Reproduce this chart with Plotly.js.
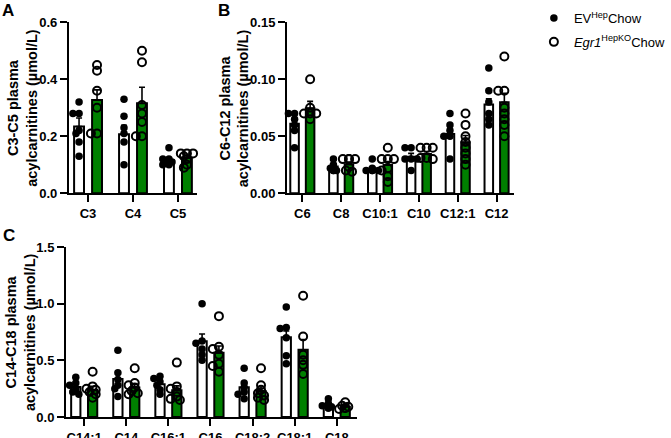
<!DOCTYPE html>
<html>
<head>
<meta charset="utf-8">
<script src="https://cdn.plot.ly/plotly-3.0.1.min.js"></script>
<style>
  html, body { margin: 0; padding: 0; background: #fff; }
  #chart { width: 671px; height: 438px; }
</style>
</head>
<body>
<div id="chart"></div>
<script>
// ---- Panel A: short-chain acylcarnitines (µmol/L) ----
const catsA = ['C3', 'C4', 'C5'];
const evMeanA = [0.234, 0.207, 0.116];
const koMeanA = [0.327, 0.316, 0.124];
const evSemA = [0.030, 0.032, 0.009];
const koSemA = [0.036, 0.056, 0.008];
const evPtsA = [
  [0.32, 0.28, 0.28, 0.22, 0.21, 0.18, 0.13],
  [0.33, 0.27, 0.23, 0.21, 0.18, 0.10],
  [0.16, 0.12, 0.12, 0.11, 0.11, 0.10, 0.10]
];
const koPtsA = [
  [0.45, 0.43, 0.36, 0.30, 0.21, 0.21],
  [0.50, 0.46, 0.31, 0.28, 0.25, 0.20, 0.20],
  [0.14, 0.14, 0.14, 0.13, 0.12, 0.10, 0.09]
];

// ---- Panel B: medium-chain acylcarnitines ----
const catsB = ['C6', 'C8', 'C10:1', 'C10', 'C12:1', 'C12'];
const evMeanB = [0.061, 0.0234, 0.0215, 0.032, 0.052, 0.078];
const koMeanB = [0.0746, 0.0254, 0.0249, 0.0345, 0.0447, 0.0798];
const evSemB = [0.0035, 0.0025, 0.001, 0.003, 0.005, 0.005];
const koSemB = [0.006, 0.002, 0.003, 0.002, 0.006, 0.008];
const evPtsB = [
  [0.07, 0.07, 0.065, 0.06, 0.055, 0.04],
  [0.03, 0.025, 0.022, 0.02, 0.02, 0.02],
  [0.03, 0.022, 0.02, 0.02, 0.02, 0.02],
  [0.04, 0.04, 0.03, 0.03, 0.03, 0.02],
  [0.07, 0.06, 0.055, 0.05, 0.05, 0.03],
  [0.11, 0.09, 0.08, 0.07, 0.065, 0.06]
];
const koPtsB = [
  [0.10, 0.075, 0.07, 0.07, 0.07, 0.065],
  [0.03, 0.03, 0.03, 0.03, 0.023, 0.02, 0.019],
  [0.04, 0.03, 0.03, 0.03, 0.022, 0.02, 0.015, 0.01],
  [0.04, 0.04, 0.04, 0.031, 0.031, 0.03],
  [0.07, 0.06, 0.05, 0.045, 0.04, 0.035, 0.03, 0.025],
  [0.12, 0.09, 0.09, 0.075, 0.07, 0.065, 0.06, 0.05]
];

// ---- Panel C: long-chain acylcarnitines ----
const catsC = ['C14:1', 'C14', 'C16:1', 'C16', 'C18:2', 'C18:1', 'C18'];
const evMeanC = [0.265, 0.335, 0.29, 0.668, 0.262, 0.704, 0.105];
const koMeanC = [0.24, 0.26, 0.235, 0.566, 0.23, 0.594, 0.09];
const evSemC = [0.03, 0.06, 0.03, 0.065, 0.04, 0.055, 0.012];
const koSemC = [0.03, 0.03, 0.04, 0.06, 0.035, 0.09, 0.01];
const evPtsC = [
  [0.35, 0.30, 0.28, 0.25, 0.22, 0.20],
  [0.59, 0.39, 0.33, 0.28, 0.25, 0.18],
  [0.36, 0.34, 0.31, 0.28, 0.24, 0.20],
  [1.00, 0.67, 0.65, 0.60, 0.55, 0.50],
  [0.43, 0.30, 0.26, 0.22, 0.20, 0.16],
  [0.97, 0.79, 0.78, 0.70, 0.54, 0.47],
  [0.16, 0.12, 0.10, 0.09, 0.08, 0.08]
];
const koPtsC = [
  [0.40, 0.27, 0.25, 0.24, 0.22, 0.20, 0.17],
  [0.43, 0.30, 0.28, 0.26, 0.23, 0.21, 0.20],
  [0.48, 0.27, 0.25, 0.22, 0.18, 0.16, 0.15],
  [0.89, 0.62, 0.60, 0.55, 0.47, 0.45, 0.40],
  [0.43, 0.28, 0.24, 0.21, 0.19, 0.17, 0.15],
  [1.07, 0.71, 0.55, 0.50, 0.46, 0.38],
  [0.13, 0.10, 0.09, 0.08, 0.08, 0.07]
];

const groupNames = ['EV<sup>Hep</sup>Chow', '<i>Egr1</i><sup>HepKO</sup>Chow'];
const yTitles = [
  'C3-C5 plasma<br>acylcarnitines (µmol/L)',
  'C6-C12 plasma<br>acylcarnitines (µmol/L)',
  'C14-C18 plasma<br>acylcarnitines (µmol/L)'
];
const panelLetters = ['A', 'B', 'C'];

// ---- drawing ----
const W = 671, H = 438;
const FONT = 'Liberation Sans, Arial, Helvetica, sans-serif';
const GREEN = 'rgb(0,128,0)';
const BAR_W = 0.22;   // bar width in category units
const OFF = 0.2;      // half distance between the two bars of a group
const DOT = 7.5;      // marker diameter (px)

const panels = [
  { cats: catsA, evMean: evMeanA, koMean: koMeanA, evSem: evSemA, koSem: koSemA,
    evPts: evPtsA, koPts: koPtsA, xa: 'x', ya: 'y',
    xDom: [72, 206], yDom: [193.3, 22.3], xRange: [-0.426, 2.426], yRange: [0, 0.6],
    dtick: 0.2, fmt: '.1f', titleX: 24, letterPos: [0, -1] },
  { cats: catsB, evMean: evMeanB, koMean: koMeanB, evSem: evSemB, koSem: koSemB,
    evPts: evPtsB, koPts: koPtsB, xa: 'x2', ya: 'y2',
    xDom: [300, 537], yDom: [193.3, 22.3], xRange: [-0.394, 5.443], yRange: [0, 0.15],
    dtick: 0.05, fmt: '.2f', titleX: 245, letterPos: [226, -1] },
  { cats: catsC, evMean: evMeanC, koMean: koMeanC, evSem: evSemC, koSem: koSemC,
    evPts: evPtsC, koPts: koPtsC, xa: 'x3', ya: 'y3',
    xDom: [69, 373], yDom: [417, 247], xRange: [-0.432, 6.477], yRange: [0, 1.5],
    dtick: 0.5, fmt: '.1f', titleX: 21, letterPos: [1, 224] }
];

// Nudge points that sit on top of each other a little to the side,
// keeping them within the width of their bar.
function spreadX(vals, center, pxPerY, pxPerCat) {
  const placed = [];
  const step = 3.2, minDist = 4.2;
  const order = [0, -1, 1, -2, 2];
  return vals.map(v => {
    const yPx = v * pxPerY;
    let xPx = 0;
    for (const k of order) {
      const cand = k * step;
      if (placed.every(p => Math.hypot(p.x - cand, p.y - yPx) >= minDist)) { xPx = cand; break; }
    }
    placed.push({ x: xPx, y: yPx });
    return center + xPx / pxPerCat;
  });
}

const traces = [];
const annotations = [];
const layout = {
  width: W, height: H,
  margin: { l: 0, r: 0, t: 0, b: 0 },
  paper_bgcolor: '#fff', plot_bgcolor: 'rgba(0,0,0,0)',
  barmode: 'overlay',
  showlegend: true,
  font: { family: FONT, size: 13, color: '#000' },
  legend: {
    x: 558 / W, y: 1 - 3 / H, xanchor: 'left', yanchor: 'top',
    font: { family: FONT, size: 13, color: '#000' },
    bgcolor: 'rgba(0,0,0,0)', tracegroupgap: 4, itemwidth: 30
  },
  annotations: annotations
};

panels.forEach((p, pi) => {
  const idx = p.cats.map((_, i) => i);
  const xKey = p.xa === 'x' ? 'xaxis' : 'xaxis' + p.xa.slice(1);
  const yKey = p.ya === 'y' ? 'yaxis' : 'yaxis' + p.ya.slice(1);
  const pxPerY = (p.yDom[0] - p.yDom[1]) / (p.yRange[1] - p.yRange[0]);
  const pxPerCat = (p.xDom[1] - p.xDom[0]) / (p.xRange[1] - p.xRange[0]);

  layout[xKey] = {
    domain: [p.xDom[0] / W, p.xDom[1] / W], anchor: p.ya,
    range: p.xRange, tickmode: 'array', tickvals: idx, ticktext: p.cats,
    showline: true, linecolor: '#000', linewidth: 2,
    ticks: 'outside', ticklen: 7, tickwidth: 2, tickcolor: '#000',
    showgrid: false, zeroline: false, fixedrange: true,
    tickfont: { family: FONT, size: 13, color: '#000', weight: 'bold' }
  };
  layout[yKey] = {
    domain: [1 - p.yDom[0] / H, 1 - p.yDom[1] / H], anchor: p.xa,
    range: p.yRange, dtick: p.dtick, tick0: 0, tickformat: p.fmt,
    showline: true, linecolor: '#000', linewidth: 2,
    ticks: 'outside', ticklen: 7, tickwidth: 2, tickcolor: '#000',
    showgrid: false, zeroline: false, fixedrange: true,
    tickfont: { family: FONT, size: 13, color: '#000', weight: 'bold' }
  };

  // rotated two-line axis title
  annotations.push({
    text: '<b>' + yTitles[pi] + '</b>', textangle: -90,
    xref: 'paper', yref: 'paper',
    x: p.titleX / W, y: 1 - (p.yDom[0] + p.yDom[1]) / 2 / H,
    xanchor: 'center', yanchor: 'middle', showarrow: false,
    font: { family: FONT, size: 14.5, color: '#000' }
  });
  // panel letter
  annotations.push({
    text: '<b>' + panelLetters[pi] + '</b>',
    xref: 'paper', yref: 'paper',
    x: p.letterPos[0] / W, y: 1 - p.letterPos[1] / H,
    xanchor: 'left', yanchor: 'top', showarrow: false,
    font: { family: FONT, size: 17, color: '#000' }
  });

  const groups = [
    { mean: p.evMean, sem: p.evSem, pts: p.evPts, dx: -OFF, fill: '#fff',
      marker: { symbol: 'circle', color: '#000', size: DOT } },
    { mean: p.koMean, sem: p.koSem, pts: p.koPts, dx: OFF, fill: GREEN,
      marker: { symbol: 'circle-open', color: '#000', size: DOT + 0.5, line: { width: 2, color: '#000' } } }
  ];

  groups.forEach(g => {
    traces.push({
      type: 'bar', xaxis: p.xa, yaxis: p.ya,
      x: idx.map(i => i + g.dx), y: g.mean, width: BAR_W,
      marker: { color: g.fill, line: { color: '#000', width: 2 } },
      error_y: { type: 'data', symmetric: false, array: g.sem,
                 arrayminus: g.sem.map(() => 0), color: '#000', thickness: 1.6, width: 3 },
      showlegend: false, hoverinfo: 'skip'
    });
  });

  groups.forEach((g, gi) => {
    const xs = [], ys = [];
    g.pts.forEach((vals, i) => {
      spreadX(vals, i + g.dx, pxPerY, pxPerCat).forEach((x, k) => { xs.push(x); ys.push(vals[k]); });
    });
    traces.push({
      type: 'scatter', mode: 'markers', xaxis: p.xa, yaxis: p.ya,
      x: xs, y: ys, marker: g.marker, cliponaxis: false,
      name: groupNames[gi], legendgroup: gi === 0 ? 'ev' : 'ko',
      showlegend: pi === 0, hoverinfo: 'skip'
    });
  });
});

Plotly.newPlot('chart', traces, layout, { staticPlot: true, displayModeBar: false });
</script>
</body>
</html>
